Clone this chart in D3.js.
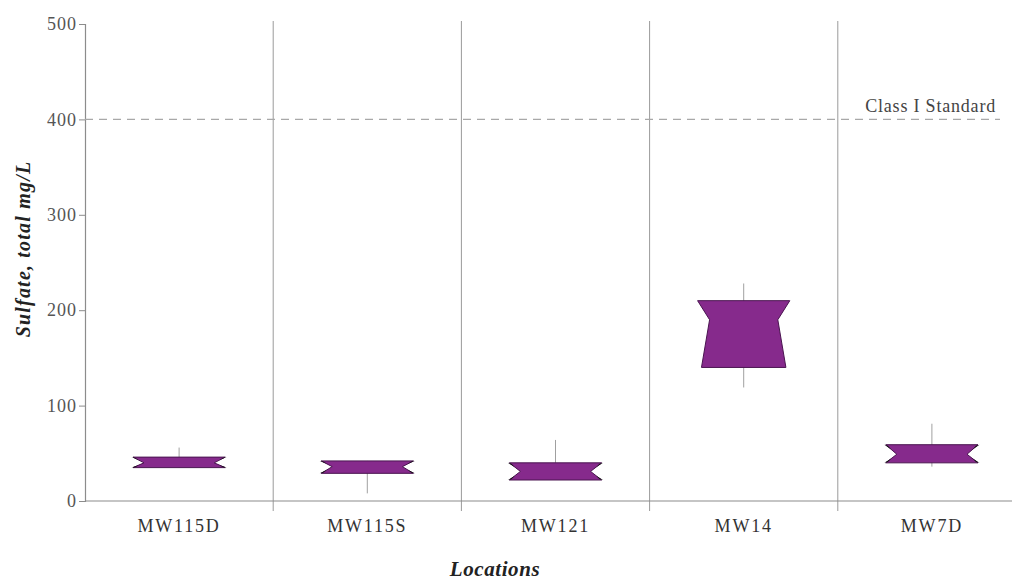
<!DOCTYPE html>
<html lang="en">
<head>
<meta charset="utf-8">
<title>Sulfate by location</title>
<script src="https://cdn.jsdelivr.net/npm/d3@7"></script>
<style>
  body { margin: 0; background: #fff; }
  text { font-family: "Liberation Serif", "DejaVu Serif", serif; }
</style>
</head>
<body>
<script>
// data
var locations = ["MW115D", "MW115S", "MW121", "MW14", "MW7D"];
var whiskerLow  = [35, 8, 22, 119, 36];
var q1          = [35, 29, 22, 140, 40];
var median      = [40, 36, 31, 190, 49];
var q3          = [46, 42, 40, 210, 59];
var whiskerHigh = [56, 42, 64, 228, 81];
var notchLow    = [35, 29, 22, 116, 40];
var notchHigh   = [46, 42, 40, 210, 59];
var yTicks = [0, 100, 200, 300, 400, 500];
var standard = 400;
var standardLabel = "Class I Standard";

var w = 1023, h = 582;
var padL = 85, padB = 501, padT = 24;

var svg = d3.select("body").append("svg")
  .attr("width", w).attr("height", h);

var x = d3.scaleBand().domain(locations).range([padL, padL + 5 * 188.2]);
var y = d3.scaleLinear().domain([0, 500]).range([padB, padT]);

var boxW = x.bandwidth() * 0.49;

// separators between locations
svg.selectAll("line.sep")
  .data(locations.slice(1))
  .enter().append("line")
  .attr("class", "sep")
  .attr("x1", function(d){ return x(d); })
  .attr("x2", function(d){ return x(d); })
  .attr("y1", 21).attr("y2", padB + 10)
  .attr("stroke", "#9a9a9a").attr("stroke-width", 1);

// x baseline
svg.append("line")
  .attr("x1", padL).attr("x2", 1012)
  .attr("y1", padB).attr("y2", padB)
  .attr("stroke", "#8c8c8c").attr("stroke-width", 1.2);

// y axis
var yAxis = svg.append("g")
  .attr("transform", "translate(" + padL + ",0)")
  .call(d3.axisLeft(y).tickValues(yTicks).tickSize(6).tickPadding(2));
yAxis.select(".domain").attr("stroke", "#8c8c8c").attr("stroke-width", 1.2);
yAxis.selectAll(".tick line").attr("stroke", "#8c8c8c");
yAxis.selectAll(".tick text")
  .attr("fill", "#555").attr("font-size", 18)
  .attr("letter-spacing", 1)
  .style("font-family", "'Liberation Serif', serif");

// standard line
svg.append("line")
  .attr("x1", padL).attr("x2", 1000)
  .attr("y1", y(standard)).attr("y2", y(standard))
  .attr("stroke", "#a8a8a8").attr("stroke-width", 1.2)
  .attr("stroke-dasharray", "8,6");
svg.append("text")
  .attr("x", 996).attr("y", y(standard) - 7)
  .attr("text-anchor", "end")
  .attr("font-size", 18).attr("fill", "#444")
  .attr("letter-spacing", 0.8)
  .text(standardLabel);

// whiskers
svg.selectAll("line.whisker")
  .data(locations)
  .enter().append("line")
  .attr("class", "whisker")
  .attr("x1", function(d){ return x(d) + x.bandwidth() / 2; })
  .attr("x2", function(d){ return x(d) + x.bandwidth() / 2; })
  .attr("y1", function(d, i){ return y(whiskerLow[i]); })
  .attr("y2", function(d, i){ return y(whiskerHigh[i]); })
  .attr("stroke", "#a0a0a0").attr("stroke-width", 1);

// notched boxes
function sidePoints(i, edge, dir, inset) {
  // top-to-bottom points for one side, clipped to the box
  var pts = [];
  var yq3 = y(q3[i]), yq1 = y(q1[i]), ym = y(median[i]);
  var yh = y(notchHigh[i]), yl = y(notchLow[i]);
  pts.push([edge, yq3]);
  if (yh > yq3) pts.push([edge, yh]);
  pts.push([edge + dir * inset, ym]);
  if (yl < yq1) {
    pts.push([edge, yl]);
    pts.push([edge, yq1]);
  } else {
    var t = (yq1 - ym) / (yl - ym);
    pts.push([edge + dir * inset * (1 - t), yq1]);
  }
  return pts;
}

locations.forEach(function(loc, i) {
  var cx = x(loc) + x.bandwidth() / 2;
  var l = cx - boxW / 2, r = cx + boxW / 2;
  var hpx = y(q1[i]) - y(q3[i]);
  var inset = hpx > 30 ? 12 : 11;
  var lp = sidePoints(i, l, 1, inset);
  var rp = sidePoints(i, r, -1, inset).reverse();
  var poly = lp.concat(rp);
  svg.append("polygon")
    .attr("points", poly.map(function(p){ return p.join(","); }).join(" "))
    .attr("fill", "#862a8c")
    .attr("stroke", "#4a1450").attr("stroke-width", 1);

  // dark tips at the notch corners of the thin boxes
  if (hpx < 30) {
    var yq3 = y(q3[i]), yq1 = y(q1[i]), ym = y(median[i]);
    var f = 0.5;
    [[l, 1], [r, -1]].forEach(function(s) {
      var e = s[0], d = s[1];
      [yq3, yq1].forEach(function(yc) {
        svg.append("polygon")
          .attr("points", [
            [e - d * 1.5, yc],
            [e + d * inset * f, yc + (ym - yc) * f],
            [e + d * 2, yc + (ym - yc) * 0.1]
          ].map(function(p){ return p.join(","); }).join(" "))
          .attr("fill", "#111");
      });
    });
  }
});

// category labels
svg.selectAll("text.cat")
  .data(locations)
  .enter().append("text")
  .attr("class", "cat")
  .attr("x", function(d){ return x(d) + x.bandwidth() / 2; })
  .attr("y", 532)
  .attr("text-anchor", "middle")
  .attr("font-size", 18).attr("fill", "#333")
  .attr("letter-spacing", 1.8)
  .text(function(d){ return d; });

// axis titles
svg.append("text")
  .attr("transform", "translate(30,249) rotate(-90)")
  .attr("text-anchor", "middle")
  .attr("font-size", 20).attr("font-style", "italic").attr("font-weight", "bold")
  .attr("letter-spacing", 1.2)
  .attr("fill", "#222")
  .text("Sulfate, total mg/L");

svg.append("text")
  .attr("x", 495).attr("y", 576)
  .attr("text-anchor", "middle")
  .attr("font-size", 21).attr("font-style", "italic").attr("font-weight", "bold")
  .attr("letter-spacing", 0.6)
  .attr("fill", "#222")
  .text("Locations");
</script>
</body>
</html>
